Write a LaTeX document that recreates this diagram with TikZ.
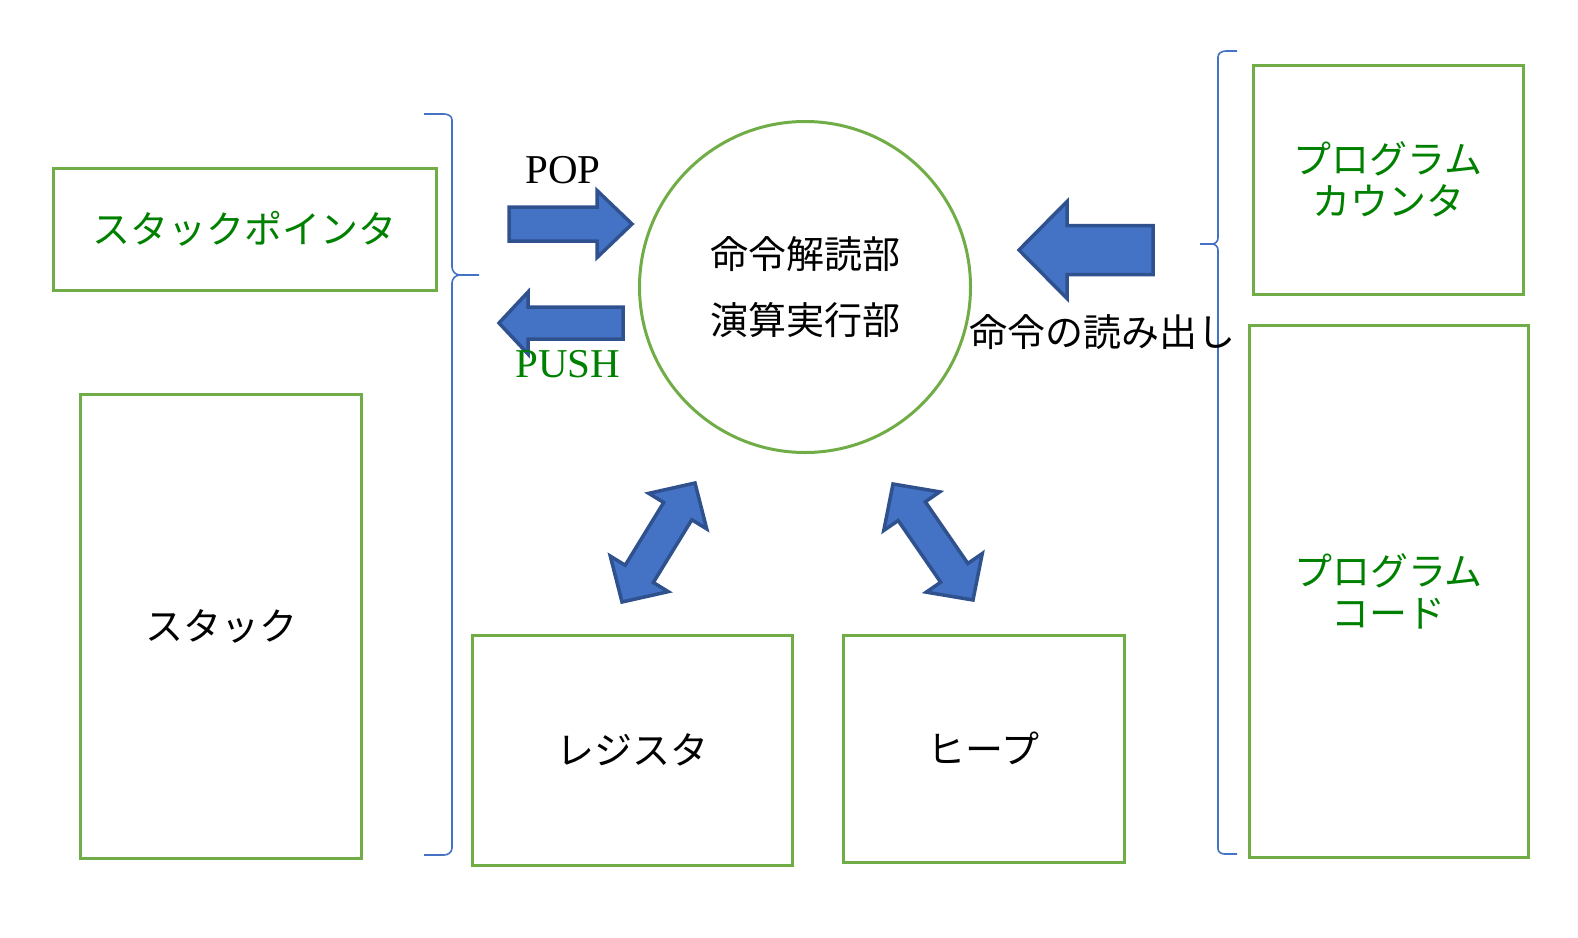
\documentclass[tikz,border=0pt]{standalone}
\usepackage{fontspec}
\setmainfont{Liberation Serif}
\newfontfamily\jp{Noto Sans CJK JP}
\usetikzlibrary{calc}
\definecolor{boxgreen}{HTML}{70AD47}
\definecolor{textgreen}{HTML}{008000}
\definecolor{arrowfill}{HTML}{4472C4}
\definecolor{arrowdraw}{HTML}{2F528F}
\definecolor{braceblue}{HTML}{4472C4}
\tikzset{
  box/.style = {draw=boxgreen, line width=3pt, inner sep=0pt, align=center,
    font={\jp\fontsize{38}{42}\selectfont}},
  jptext/.style = {inner sep=0pt, align=center, font={\jp\fontsize{38}{66}\selectfont}},
  latin/.style = {inner sep=0pt, font={\fontsize{41}{48}\selectfont}},
  blockarrow/.style = {fill=arrowfill, draw=arrowdraw, line width=3.5pt, line join=miter},
  bracket/.style = {draw=braceblue, line width=1.6pt}
}
% fat arrow: tail, tip, shaft half width, head half width, head length
\newcommand{\fatarrow}[5]{%
  \path (#1) coordinate (fa-t) (#2) coordinate (fa-p);
  \path ($(fa-p)!#5!(fa-t)$) coordinate (fa-h);
  \draw[blockarrow] ($(fa-t)!#3!90:(fa-p)$) -- ($(fa-h)!#3!90:(fa-p)$)
    -- ($(fa-h)!#4!90:(fa-p)$) -- (fa-p) -- ($(fa-h)!#4!-90:(fa-p)$)
    -- ($(fa-h)!#3!-90:(fa-p)$) -- ($(fa-t)!#3!-90:(fa-p)$) -- cycle;
}
% double arrow between two tips
\newcommand{\dblarrow}[2]{%
  \path (#1) coordinate (da-a) (#2) coordinate (da-b);
  \path ($(da-a)!33pt!(da-b)$) coordinate (da-h1) ($(da-b)!33pt!(da-a)$) coordinate (da-h2);
  \draw[blockarrow] (da-a) -- ($(da-h1)!34pt!90:(da-b)$) -- ($(da-h1)!16.5pt!90:(da-b)$)
    -- ($(da-h2)!16.5pt!-90:(da-a)$) -- ($(da-h2)!34pt!-90:(da-a)$) -- (da-b)
    -- ($(da-h2)!34pt!90:(da-a)$) -- ($(da-h2)!16.5pt!90:(da-a)$)
    -- ($(da-h1)!16.5pt!-90:(da-b)$) -- ($(da-h1)!34pt!-90:(da-b)$) -- cycle;
}
\begin{document}
\begin{tikzpicture}[x=1pt, y=-1pt]
  \useasboundingbox (0,0) rectangle (1578,937);
  % boxes
  \node[box, text=textgreen, minimum width=383pt, minimum height=122pt] (sp) at (244.5,229) {スタックポインタ};
  \node[box, minimum width=281pt, minimum height=464pt] (stack) at (221,626) {スタック};
  \node[box, minimum width=320pt, minimum height=230pt] (reg) at (632,750) {レジスタ};
  \node[box, minimum width=281pt, minimum height=227pt] (heap) at (983.5,748.5) {ヒープ};
  \node[box, text=textgreen, minimum width=270pt, minimum height=229pt] (pc) at (1388,179.5) {プログラム\\カウンタ};
  \node[box, text=textgreen, minimum width=279pt, minimum height=532pt] (code) at (1388.5,591) {プログラム\\コード};
  \node[draw=boxgreen, line width=3pt, circle, minimum size=331pt, inner sep=0pt] (cpu) at (805,287) {};
  \node[jptext] (cpulabel) at (cpu) {命令解読部\\演算実行部};
  % braces
  \draw[bracket] (424,114) -- (444,114) to[out=0,in=90] (452,120) -- (452,267)
    to[out=-90,in=180] (460,275) coordinate (spbrace) -- (479,275);
  \draw[bracket] (spbrace) to[out=180,in=90] (452,283) -- (452,848) to[out=-90,in=0] (444,855) -- (424,855);
  \draw[bracket] (1237,51) -- (1226,51) to[out=180,in=90] (1218,57) -- (1218,238)
    to[out=-90,in=0] (1212,244) coordinate (pcbrace) -- (1200,244);
  \draw[bracket] (pcbrace) to[out=0,in=90] (1218,250) -- (1218,849) to[out=-90,in=180] (1225,854) -- (1237,854);
  % arrows
  \coordinate (popS) at (509,224);
  \coordinate (popE) at (632,224);
  \coordinate (pushS) at (623,323);
  \coordinate (pushE) at (499,323);
  \coordinate (fetchS) at (1153,250);
  \coordinate (fetchE) at (1019,250);
  \fatarrow{popS}{popE}{17pt}{33.5pt}{35pt}
  \fatarrow{pushS}{pushE}{16pt}{31pt}{29pt}
  \fatarrow{fetchS}{fetchE}{24.5pt}{48.5pt}{48pt}
  \coordinate (regA) at (622,602);
  \coordinate (regB) at (695,483);
  \coordinate (heapA) at (893,484);
  \coordinate (heapB) at (973,600);
  \dblarrow{regA}{regB}
  \dblarrow{heapA}{heapB}
  % labels
  \node[latin, anchor=base] (pop) at (563,183) {POP};
  \node[latin, anchor=base, text=textgreen] (push) at (568,377) {PUSH};
  \node[jptext, anchor=west] (fetch) at (969,332) {命令の読み出し};
\end{tikzpicture}
\end{document}
